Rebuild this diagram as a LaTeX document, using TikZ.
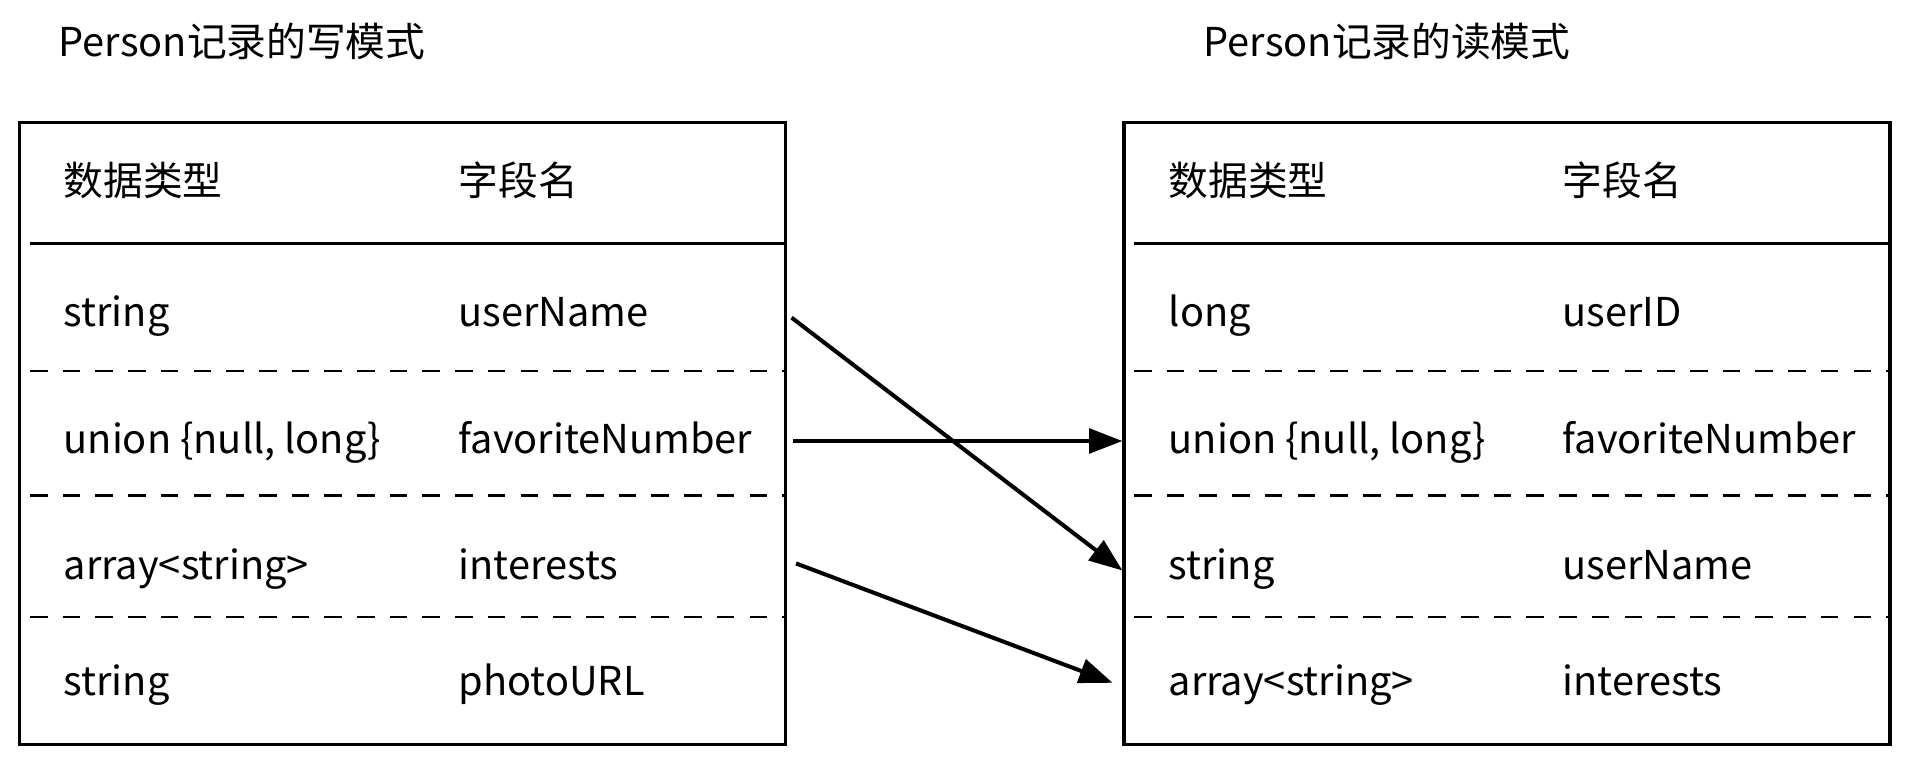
\documentclass[tikz,border=0pt]{standalone}
\usepackage{fontspec}
\setmainfont{Noto Sans CJK SC}
\usetikzlibrary{arrows.meta,positioning}

\tikzset{
	cell/.style={anchor=west, inner sep=0pt, text height=0.72em, text depth=0pt, font=\fontsize{11.3}{13}\selectfont},
	tablebox/.style={draw, line width=0.9pt, minimum width=7.655cm, minimum height=6.21cm, inner sep=0pt},
	rowsep/.style={line width=0.8pt, dash pattern=on 5pt off 4.3pt},
	link/.style={line width=1.15pt, -{Triangle[length=9.5pt,width=7pt]}},
}

\begin{document}
\begin{tikzpicture}[x=0.01cm, y=-0.01cm]
	\useasboundingbox (0, 0) rectangle (1909, 764);

	% write schema
	\node[cell] (wtitle) at(58, 44){Person记录的写模式};
	\node[tablebox] (writer) at(402.25, 433.5){};
		\draw[line width=0.9pt](30, 243.5) to (785, 243.5);
		\draw[rowsep](30, 371) to (785, 371);
		\draw[rowsep](30, 495.5) to (785, 495.5);
		\draw[rowsep](30, 617) to (785, 617);

	\node[cell] (whead1) at(63, 183){数据类型};
	\node[cell] (whead2) at(458, 183){字段名};
	\node[cell] (wtype1) at(63, 314){string};
	\node[cell] (wname1) at(458, 314){userName};
	\node[cell] (wtype2) at(63, 441){union \{null, long\}};
	\node[cell] (wname2) at(458, 441){favoriteNumber};
	\node[cell] (wtype3) at(63, 567){array<string>};
	\node[cell] (wname3) at(458, 567){interests};
	\node[cell] (wtype4) at(63, 683){string};
	\node[cell] (wname4) at(458, 683){photoURL};

	% read schema
	\node[cell] (rtitle) at(1203, 44){Person记录的读模式};
	\node[tablebox] (reader) at(1507, 433.5){};
		\draw[line width=0.9pt](1134, 243.5) to (1890, 243.5);
		\draw[rowsep](1134, 371) to (1890, 371);
		\draw[rowsep](1134, 495.5) to (1890, 495.5);
		\draw[rowsep](1134, 617) to (1890, 617);

	\node[cell] (rhead1) at(1168, 183){数据类型};
	\node[cell] (rhead2) at(1562, 183){字段名};
	\node[cell] (rtype1) at(1168, 314){long};
	\node[cell] (rname1) at(1562, 314){userID};
	\node[cell] (rtype2) at(1168, 441){union \{null, long\}};
	\node[cell] (rname2) at(1562, 441){favoriteNumber};
	\node[cell] (rtype3) at(1168, 567){string};
	\node[cell] (rname3) at(1562, 567){userName};
	\node[cell] (rtype4) at(1168, 683){array<string>};
	\node[cell] (rname4) at(1562, 683){interests};

	% field mapping
	\draw[link, shorten <=1.7pt](writer.east |- wname1) to ([yshift=-1pt]reader.west |- rtype3);
	\draw[link, shorten <=1.7pt](writer.east |- wname2) to (reader.west |- rtype2);
	\draw[link, shorten <=2.8pt, shorten >=3pt]([yshift=2pt]writer.east |- wname3) to ([yshift=-1pt]reader.west |- rtype4);
\end{tikzpicture}
\end{document}
